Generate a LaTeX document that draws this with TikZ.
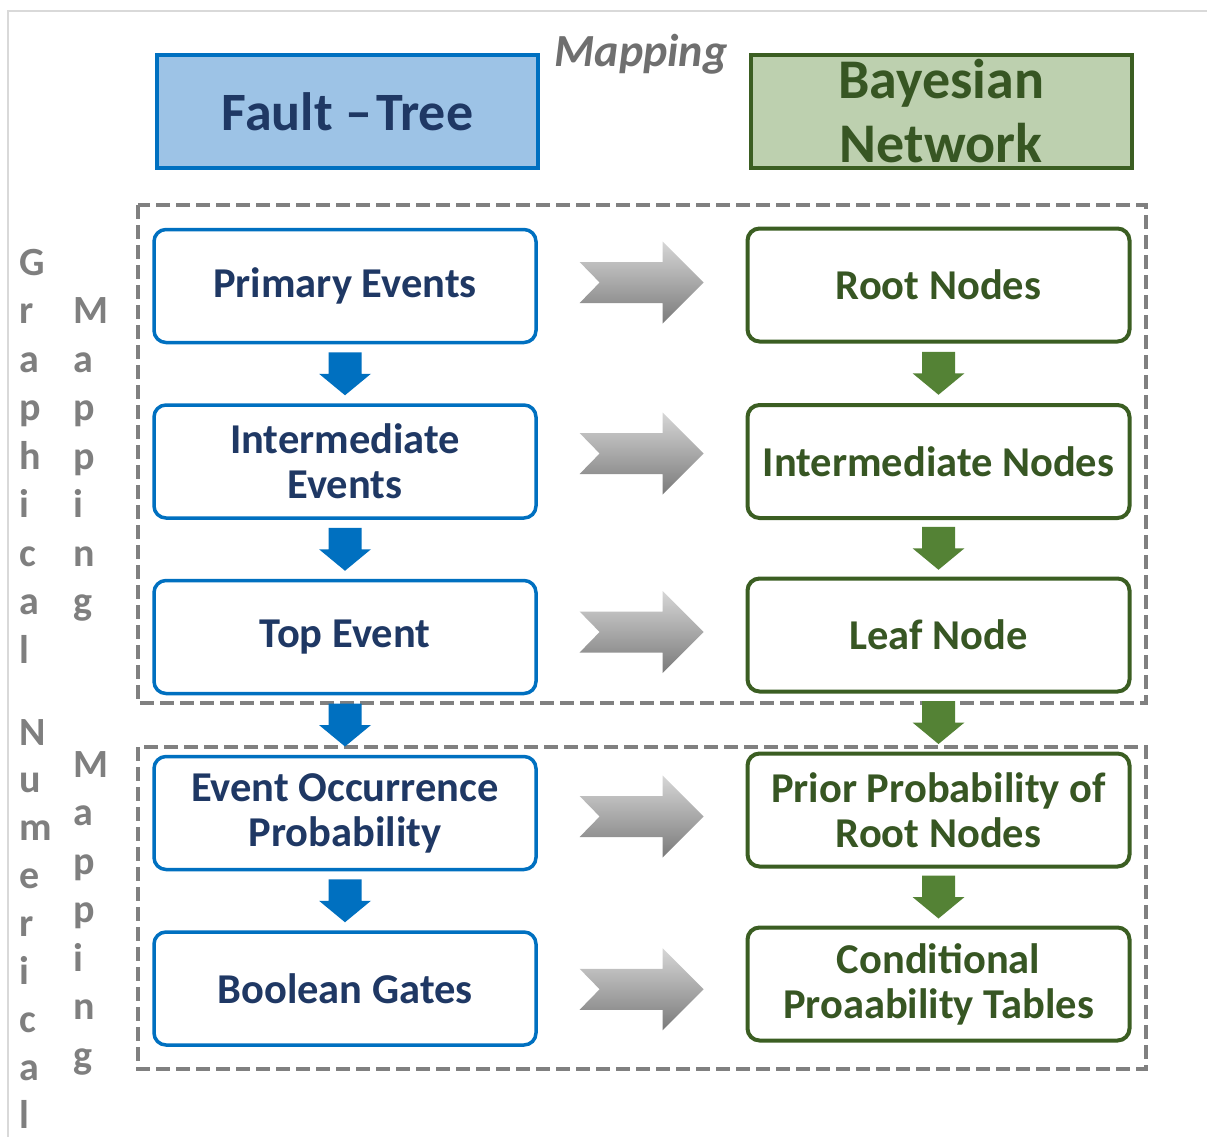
\documentclass[tikz,border=0pt]{standalone}
\usepackage{fontspec}
\setmainfont{Carlito}
\usetikzlibrary{calc}
\definecolor{ftblue}{HTML}{0070C0}
\definecolor{ftfill}{HTML}{9DC3E6}
\definecolor{ftnavy}{HTML}{1F3864}
\definecolor{bngreen}{HTML}{3B5E22}
\definecolor{bnarrow}{HTML}{548235}
\definecolor{bnfill}{HTML}{BDD0AF}
\definecolor{bntext}{HTML}{375623}
\definecolor{framegray}{HTML}{808080}
\definecolor{sidegray}{HTML}{7F7F7F}
\definecolor{mapgray}{HTML}{6F6F6F}
\definecolor{edgegray}{HTML}{D9D9D9}
\tikzset{
  boxbase/.style={rounded corners=12pt, fill=white,
    minimum width=382pt, minimum height=113pt, inner sep=0pt, align=center,
    font=\fontsize{42.5}{45}\selectfont\bfseries},
  ftbox/.style={boxbase, line width=3.5pt, draw=ftblue, text=ftnavy},
  bnbox/.style={boxbase, line width=4pt, draw=bngreen, text=bntext},
  headbox/.style={line width=4pt, minimum width=381pt, minimum height=113pt,
    inner sep=0pt, align=center},
  groupframe/.style={draw=framegray, line width=4.5pt, dash pattern=on 14pt off 6pt},
  sideletter/.style={text=sidegray, font=\fontsize{40}{42}\selectfont\bfseries,
    anchor=base west, inner sep=0pt},
  maparrow/.pic={
    \shade[top color=black!16, bottom color=black!52]
      (-62,-20.5) -- (21,-20.5) -- (21,-41) -- (62,0) -- (21,41) -- (21,20.5)
      -- (-62,20.5) -- (-42,0) -- cycle;
  },
  downarrow/.pic={
    \fill[#1] (-16.5,-21.5) -- (16.5,-21.5) -- (16.5,0) -- (26,0) -- (0,21.5)
      -- (-26,0) -- (-16.5,0) -- cycle;
  }
}
\begin{document}
\begin{tikzpicture}[x=1pt,y=-1pt]
\useasboundingbox (0,0) rectangle (1207,1137);
\fill[white] (0,0) rectangle (1207,1137);

% thin outer edge
\draw[edgegray, line width=2pt] (8,1137) -- (8,11) -- (1207,11);

% headers
\node[headbox, draw=ftblue, fill=ftfill, text=ftnavy,
  font=\fontsize{54}{60}\selectfont\bfseries] (ft) at (347.5,111.5) {Fault –\hspace{0.08em}Tree};
\node[headbox, draw=bngreen, fill=bnfill, text=bntext,
  font=\fontsize{56}{64}\selectfont\bfseries] (bn) at (941,111.5) {Bayesian\\Network};
\node[text=mapgray, font=\fontsize{46}{50}\selectfont\bfseries\itshape, inner sep=0pt]
  (maplbl) at (641,54) {Mapping};

% group frames
\draw[groupframe] (138,205) rectangle (1146,703);
\draw[groupframe] (138,747) rectangle (1146,1069);

% fault-tree column
\node[ftbox] (pe) at (345,286) {Primary Events};
\node[ftbox] (ie) at (345,461.5) {Intermediate\\Events};
\node[ftbox] (te) at (345,637) {Top Event};
\node[ftbox] (eo) at (345,813) {Event Occurrence\\Probability};
\node[ftbox] (bg) at (345,988.5) {Boolean Gates};

% bayesian-network column
\node[bnbox] (rn) at (938.5,285) {Root Nodes};
\node[bnbox] (in) at (938.5,461.5) {Intermediate Nodes};
\node[bnbox] (ln) at (938.5,635) {Leaf Node};
\node[bnbox] (pp) at (938.5,810) {Prior Probability of\\Root Nodes};
\node[bnbox] (ct) at (938.5,984) {Conditional\\Proaability Tables};

% downward flow arrows
\pic at ($(pe.south)!0.5!(ie.north)$) {downarrow=ftblue};
\pic at ($(ie.south)!0.5!(te.north)$) {downarrow=ftblue};
\pic at ($(te.south)!0.5!(eo.north)$) {downarrow=ftblue};
\pic at ($(eo.south)!0.5!(bg.north)$) {downarrow=ftblue};
\pic at ($(rn.south)!0.5!(in.north)$) {downarrow=bnarrow};
\pic at ($(in.south)!0.5!(ln.north)$) {downarrow=bnarrow};
\pic at ($(ln.south)!0.5!(pp.north)$) {downarrow=bnarrow};
\pic at ($(pp.south)!0.5!(ct.north)$) {downarrow=bnarrow};

% mapping arrows between the columns
\pic at ($(pe.east)!0.5!(rn.west)+(0,-3)$) {maparrow};
\pic at ($(ie.east)!0.5!(in.west)+(0,-8)$) {maparrow};
\pic at ($(te.east)!0.5!(ln.west)+(0,-4)$) {maparrow};
\pic at ($(eo.east)!0.5!(pp.west)+(0,5)$) {maparrow};
\pic at ($(bg.east)!0.5!(ct.west)+(0,3)$) {maparrow};

% vertical side labels
\foreach \c [count=\i] in {G,r,a,p,h,i,c,a,l}
  \node[sideletter] (gr\i) at (19,{275+48.5*(\i-1)}) {\c};
\foreach \c [count=\i] in {M,a,p,p,i,n,g}
  \node[sideletter] (ma\i) at (73,{323.5+48.5*(\i-1)}) {\c};
\foreach \c [count=\i] in {N,u,m,e,r,i,c,a,l}
  \node[sideletter] (nu\i) at (19,{745+47.9*(\i-1)}) {\c};
\foreach \c [count=\i] in {M,a,p,p,i,n,g}
  \node[sideletter] (mb\i) at (73,{777+48.5*(\i-1)}) {\c};
\end{tikzpicture}
\end{document}
